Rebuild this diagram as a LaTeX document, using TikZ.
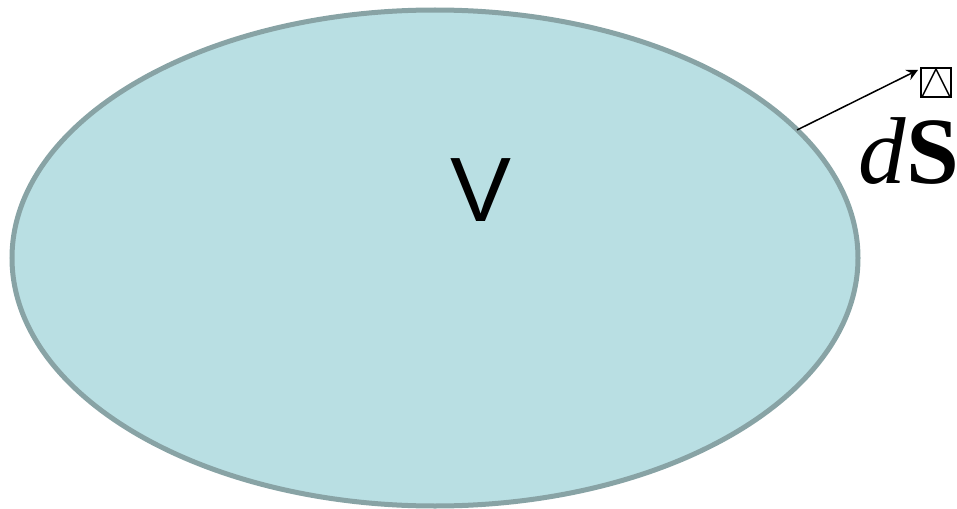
\documentclass[tikz,border=0pt]{standalone}
\usepackage{fontspec}
\setmainfont{Liberation Serif}
\setsansfont{Liberation Sans}
\definecolor{volfill}{HTML}{B9DFE3}
\definecolor{voledge}{HTML}{88A3A5}
\tikzset{
  volume/.style={fill=volfill, draw=voledge, line width=5\unitpx},
  normal/.style={->, >=stealth, line width=1.5\unitpx},
}
\newlength{\unitpx}
\setlength{\unitpx}{0.2845pt}
\begin{document}
\begin{tikzpicture}[x=0.01cm, y=-0.01cm]
	\useasboundingbox (0,0) rectangle (957,509);
	% the volume
	\draw[volume] (435,258) ellipse [x radius=423, y radius=248];
	\node[font=\sffamily\fontsize{26}{26}\selectfont] (vlabel) at (481,190) {V};
	% surface element
	\coordinate (foot) at (797,130);
	\coordinate (tip) at (918,70);
	\draw[normal] (foot) -- (tip);
	\node[anchor=base west, inner sep=0pt, font=\fontsize{27}{27}\selectfont] (dslabel) at (858,183) {\textit{d}\textbf{S}};
	% missing glyph above the S
	\draw[line width=1.5\unitpx] (921,68) rectangle (951,97);
	\draw[line width=1.5\unitpx] (922,97) -- (936,69) -- (950,97);
\end{tikzpicture}
\end{document}
